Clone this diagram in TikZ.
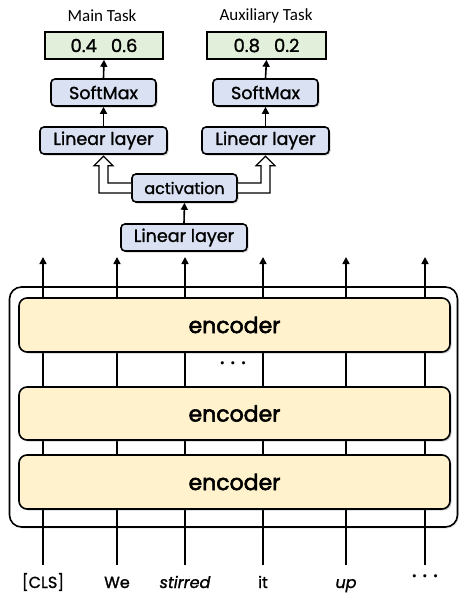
\documentclass[tikz,border=0pt]{standalone}
\usepackage{fontspec}
\setmainfont{Poppins}[FakeBold=1.3]
\newfontfamily\labfont{Carlito}
\newfontfamily\encfont{Poppins}[FakeBold=2.6]
\usetikzlibrary{shadows,calc,arrows.meta}
\definecolor{outgreen}{HTML}{E2EFDA}
\definecolor{boxblue}{HTML}{D9E1F2}
\definecolor{encyellow}{HTML}{FFF2CC}
\tikzset{
  shad/.style={drop shadow={shadow xshift=1.5pt, shadow yshift=-1.5pt, opacity=0.3, fill=black!60}},
  outbox/.style={draw, line width=1.6pt, fill=outgreen, minimum height=27pt, inner sep=0pt, font=\fontsize{18}{20}\selectfont},
  bluebox/.style={draw, line width=1.6pt, fill=boxblue, rounded corners=4pt, minimum height=27pt, inner sep=0pt, shad, font=\fontsize{17.5}{20}\selectfont},
  encbox/.style={draw, line width=1.6pt, fill=encyellow, rounded corners=8pt, minimum width=431pt, minimum height=54pt, inner sep=0pt, shad, font=\encfont\fontsize{22}{24}\selectfont},
  tasklab/.style={font=\labfont\fontsize{17}{19}\selectfont, inner sep=0pt},
  tok/.style={font=\fontsize{16}{18}\selectfont, inner sep=0pt, anchor=base},
  arr/.style={line width=1.6pt, -{Triangle[length=7pt,width=7pt]}},
  col/.style={line width=1.6pt, -{Triangle[length=7pt,width=7pt]}},
  hollow/.style={line width=1.2pt, fill=white, line join=miter},
  dotsty/.style={font=\fontsize{21}{21}\selectfont\boldmath, inner sep=0pt}
}
\begin{document}
\begin{tikzpicture}[x=1pt,y=-1pt]
\useasboundingbox (0,0) rectangle (459,594);
% labels
\node[tasklab] (mt) at (102,16) {Main Task};
\node[tasklab] (at) at (266,16) {Auxiliary Task};
% outputs
\node[outbox, minimum width=118pt] (o1) at (104,45.5) {0.4\hspace{14pt}0.6};
\node[outbox, minimum width=119pt] (o2) at (266.5,45.5) {0.8\hspace{14pt}0.2};
% softmax
\node[bluebox, minimum width=105pt] (s1) at (103.5,92.5) {SoftMax};
\node[bluebox, minimum width=105pt] (s2) at (265.5,92.5) {SoftMax};
% linear layers
\node[bluebox, minimum width=127pt] (l1) at (103.5,140.5) {Linear layer};
\node[bluebox, minimum width=127pt] (l2) at (265.5,140.5) {Linear layer};
\node[bluebox, minimum width=105pt, minimum height=28pt, font=\fontsize{16}{18}\selectfont] (act) at (184.5,188) {activation};
\node[bluebox, minimum width=126pt] (lb) at (184,237.5) {Linear layer};
% arrows
\draw[arr] (l1.north) -- (s1.south);
\draw[arr] (s1.north) -- (o1.south);
\draw[arr] (l2.north) -- (s2.south);
\draw[arr] (s2.north) -- (o2.south);
\draw[arr] (lb.north) -- (act.south);
% hollow arrows
\draw[hollow] ($(act.west)+(0,-5)$) -- ($(l1.south |- act.west)+(4.5,-5)$)
  -- ($(l1.south)+(4.5,11)$) -- ($(l1.south)+(9.5,11)$) -- ($(l1.south)+(0,1.5)$)
  -- ($(l1.south)+(-9.5,11)$) -- ($(l1.south)+(-4.5,11)$)
  -- ($(l1.south |- act.west)+(-4.5,5)$) -- ($(act.west)+(0,5)$);
\draw[hollow] ($(act.east)+(0,-5)$) -- ($(l2.south |- act.east)+(-4.5,-5)$)
  -- ($(l2.south)+(-4.5,11)$) -- ($(l2.south)+(-9.5,11)$) -- ($(l2.south)+(0,1.5)$)
  -- ($(l2.south)+(9.5,11)$) -- ($(l2.south)+(4.5,11)$)
  -- ($(l2.south |- act.east)+(4.5,5)$) -- ($(act.east)+(0,5)$);
% outer box
\node[draw, line width=1.6pt, fill=white, rounded corners=12pt, minimum width=448pt, minimum height=240pt, inner sep=0pt,
  drop shadow={shadow xshift=1.5pt, shadow yshift=-1.5pt, opacity=0.2, fill=black!50}] (outer) at (233.5,407) {};
% tokens
\node[tok] (t1) at (43,588) {[CLS]};
\node[tok] (t2) at (117,588) {We};
\node[tok] (t3) at (185,588) {\itshape stirred};
\node[tok] (t4) at (263,588) {it};
\node[tok] (t5) at (346,588) {\itshape up};
\node[dotsty] (t6) at (425,577) {$\cdots$};
% column tips
\foreach \i/\x in {1/43,2/117,3/185,4/263,5/346,6/425} {
  \coordinate (c\i) at (\x,257);
  \coordinate (b\i) at (\x,565);
  \draw[col] (b\i) -- (c\i);
}
% encoders
\node[encbox] (e1) at (234.5,325) {encoder};
\node[dotsty] (dots) at (233,364) {$\cdots$};
\node[encbox, minimum height=53pt] (e2) at (234.5,413.5) {encoder};
\node[encbox] (e3) at (234.5,482) {encoder};
\end{tikzpicture}
\end{document}
